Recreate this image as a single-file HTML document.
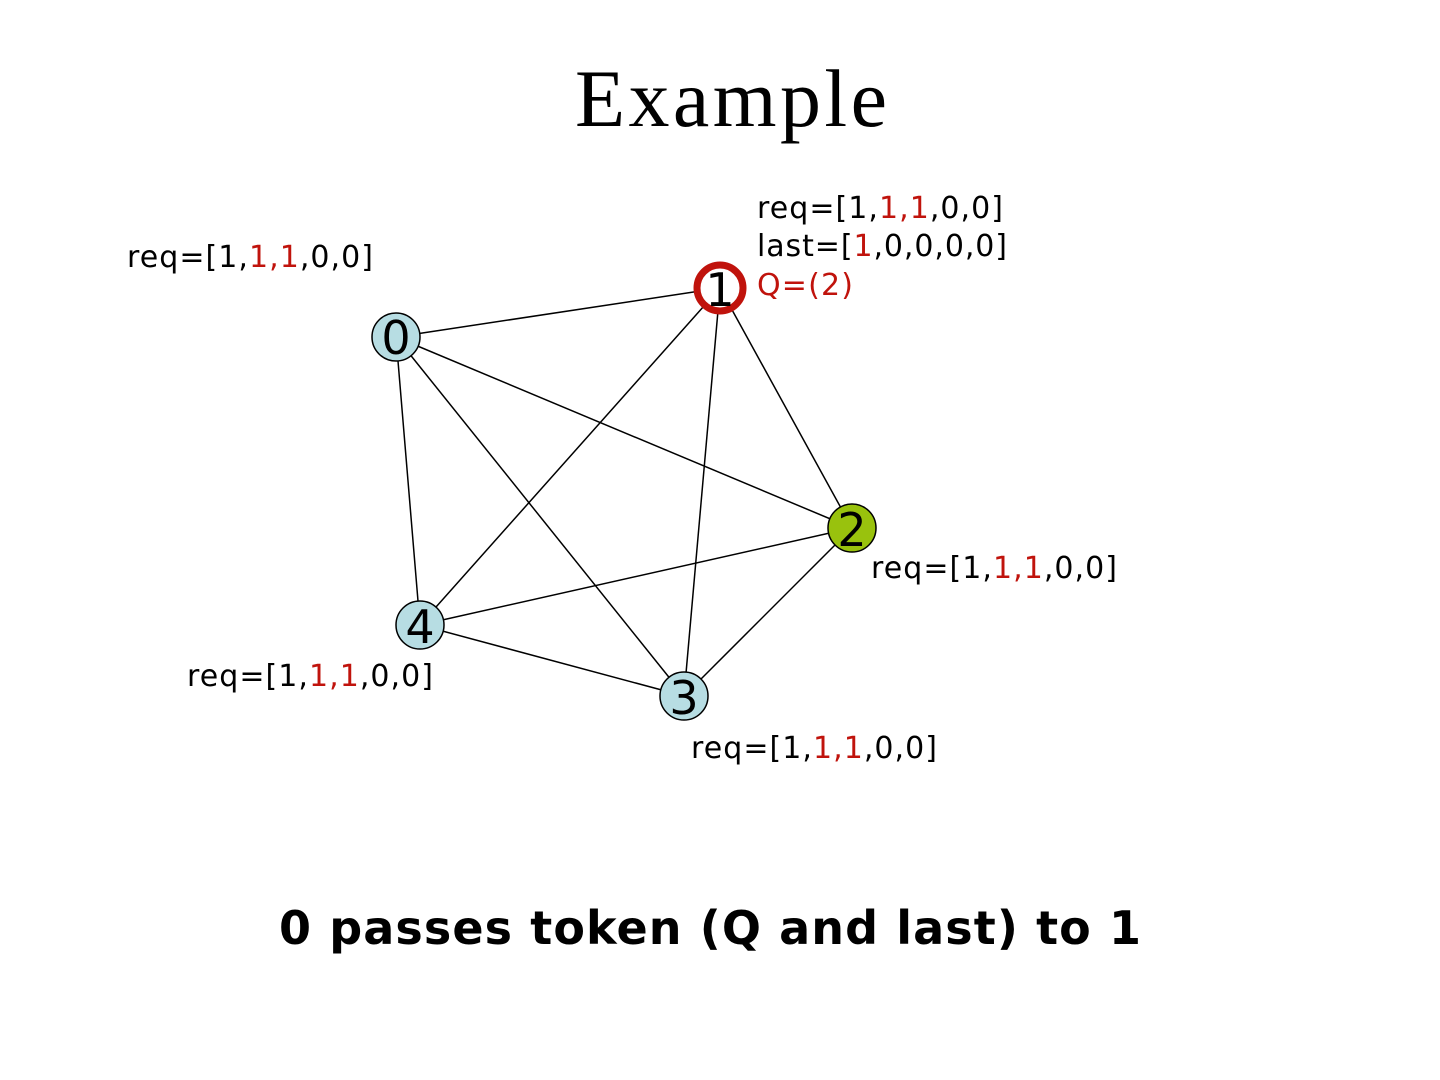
<!DOCTYPE html>
<html><head><meta charset="utf-8"><style>
html,body{margin:0;padding:0;background:#fff;}
svg{display:block;}
.t{font-family:"DejaVu Sans","Liberation Sans",sans-serif;font-size:30px;fill:#000;}
.r{fill:#c0130c;}
.n{font-family:"DejaVu Sans","Liberation Sans",sans-serif;font-size:46px;fill:#000;text-anchor:middle;}
</style></head><body>
<svg width="1440" height="1080" viewBox="0 0 1440 1080">
<text x="731" y="126" text-anchor="middle" font-family="'Liberation Serif',serif" font-size="82" textLength="312">Example</text>
<g stroke="#000" stroke-width="1.5">
<line x1="396" y1="337" x2="720" y2="288"/>
<line x1="396" y1="337" x2="852" y2="528"/>
<line x1="396" y1="337" x2="420" y2="625"/>
<line x1="396" y1="337" x2="684" y2="696"/>
<line x1="720" y1="288" x2="852" y2="528"/>
<line x1="720" y1="288" x2="420" y2="625"/>
<line x1="720" y1="288" x2="684" y2="696"/>
<line x1="852" y1="528" x2="420" y2="625"/>
<line x1="852" y1="528" x2="684" y2="696"/>
<line x1="420" y1="625" x2="684" y2="696"/>
</g>
<g stroke="#000" stroke-width="1.5">
<circle cx="396" cy="337" r="24" fill="#b7dde3"/>
<circle cx="852" cy="528" r="24" fill="#99c20d"/>
<circle cx="420" cy="625" r="24" fill="#b7dde3"/>
<circle cx="684" cy="696" r="24" fill="#b7dde3"/>
</g>
<circle cx="720" cy="288" r="23" fill="#fff" stroke="#c0130c" stroke-width="7"/>
<text class="n" x="396" y="354">0</text>
<text class="n" x="720" y="306">1</text>
<text class="n" x="852" y="546">2</text>
<text class="n" x="420" y="643">4</text>
<text class="n" x="684" y="714">3</text>
<text class="t" x="127" y="267" textLength="246">req=[1,<tspan class="r">1,1</tspan>,0,0]</text>
<text class="t" x="757" y="218" textLength="246">req=[1,<tspan class="r">1,1</tspan>,0,0]</text>
<text class="t" x="757" y="256" textLength="250">last=[<tspan class="r">1</tspan>,0,0,0,0]</text>
<text class="t r" x="757" y="295" textLength="96">Q=(2)</text>
<text class="t" x="871" y="578" textLength="246">req=[1,<tspan class="r">1,1</tspan>,0,0]</text>
<text class="t" x="187" y="686" textLength="246">req=[1,<tspan class="r">1,1</tspan>,0,0]</text>
<text class="t" x="691" y="758" textLength="246">req=[1,<tspan class="r">1,1</tspan>,0,0]</text>
<text x="279" y="944" font-family="'DejaVu Sans','Liberation Sans',sans-serif" font-weight="bold" font-size="46" textLength="862">0 passes token (Q and last) to 1</text>
</svg>
</body></html>
